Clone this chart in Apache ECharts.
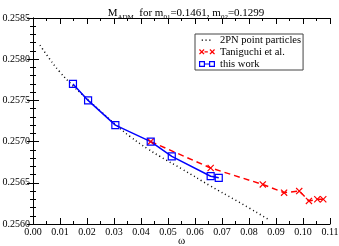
<!DOCTYPE html>
<html><head><meta charset="utf-8">
<script src="https://cdn.jsdelivr.net/npm/echarts@6/dist/echarts.min.js"></script>
<style>html,body{margin:0;padding:0;background:#fff}#c{width:339px;height:246px}</style>
</head><body><div id="c"></div>
<script>
const seriesNames = ['2PN point particles', 'Taniguchi et al.', 'this work'];
const pnOmega = [0.0026, 0.006, 0.0098, 0.015, 0.020, 0.025, 0.0305, 0.036, 0.0426, 0.047, 0.055, 0.0658, 0.075, 0.087];
const pnMass  = [0.25817, 0.25801, 0.25785, 0.25767, 0.25752, 0.25737, 0.25721, 0.25706, 0.25691, 0.25682, 0.25667, 0.25646, 0.25629, 0.25606];
const tanOmega = [0.0436, 0.0658, 0.0851, 0.0930, 0.0986, 0.1022, 0.1053, 0.1075];
const tanMass  = [0.2570, 0.25668, 0.25648, 0.25638, 0.2564, 0.25628, 0.2563, 0.2563];
const workOmega = [0.0148, 0.0204, 0.0305, 0.0436, 0.0514, 0.0658, 0.0688];
const workMass  = [0.2577, 0.2575, 0.2572, 0.2570, 0.25682, 0.25658, 0.25656];
const xTicks = [0, 0.11, 0.01];
const yTicks = [0.2560, 0.2585, 0.0005];

const zip = (a, b) => a.map((v, i) => [v, b[i]]);
const font = 'Liberation Serif';
const crossPath = 'path://M0,1.2L1.2,0L5,3.8L8.8,0L10,1.2L6.2,5L10,8.8L8.8,10L5,6.2L1.2,10L0,8.8L3.8,5Z';

// legend icons (16 x 9 boxes; tiny corner triangles fix the bounds)
const bounds = 'M0,0L0.01,0L0,0.01ZM16,9L15.99,9L16,8.99Z';
const iconDots = 'path://' + bounds + 'M2.7,3.9h1.3v1.3h-1.3ZM6.4,3.9h1.3v1.3h-1.3ZM10.2,3.9h1.3v1.3h-1.3Z';
const iconCross = 'path://' + bounds +
  'M0,2.5L0.9,1.6L2.75,3.45L4.6,1.6L5.5,2.5L3.65,4.35L5.5,6.2L4.6,7.1L2.75,5.25L0.9,7.1L0,6.2L1.85,4.35Z' +
  'M5.5,3.7h3.3v1.3h-3.3Z' +
  'M10.5,2.5L11.4,1.6L13.25,3.45L15.1,1.6L16,2.5L14.15,4.35L16,6.2L15.1,7.1L13.25,5.25L11.4,7.1L10.5,6.2L12.35,4.35Z';
const iconSquares = 'path://' + bounds +
  'M0,1.5L6,1.5L6,7.5L0,7.5ZM1.2,2.7L1.2,6.3L4.8,6.3L4.8,2.7Z' +
  'M6,3.9h4v1.2h-4Z' +
  'M10,1.5L16,1.5L16,7.5L10,7.5ZM11.2,2.7L11.2,6.3L14.8,6.3L14.8,2.7Z';

const axisCommon = {
  axisLine: {show: true, lineStyle: {color: '#000', width: 1}},
  axisTick: {show: true, inside: true, length: 6, lineStyle: {color: '#000'}},
  splitLine: {show: false},
  minorSplitLine: {show: false}
};

const chart = echarts.init(document.getElementById('c'));
chart.setOption({
  animation: false,
  backgroundColor: '#fff',
  title: {
    text: 'M{s|ADM}  for m{s|01}=0.1461, m{s|02}=0.1299',
    left: 181, textAlign: 'center', top: 1,
    textStyle: {
      fontFamily: font, fontSize: 11, fontWeight: 'normal', color: '#000',
      rich: {s: {fontFamily: font, fontSize: 7, padding: [8, 0, 0, 0], color: '#000'}}
    }
  },
  legend: {
    data: [
      {name: seriesNames[0], icon: iconDots, itemStyle: {color: '#000', borderWidth: 0}},
      {name: seriesNames[1], icon: iconCross, itemStyle: {color: '#ff0000', borderWidth: 0}},
      {name: seriesNames[2], icon: iconSquares, itemStyle: {color: '#0000ff', borderWidth: 0}}
    ],
    orient: 'vertical',
    left: 195, top: 34,
    itemWidth: 16, itemHeight: 12, itemGap: 0,
    padding: [0, 2, 0, 4],
    borderColor: '#444', borderWidth: 1,
    backgroundColor: '#fff',
    textStyle: {fontFamily: font, fontSize: 10.5, lineHeight: 12, color: '#000'}
  },
  grid: {left: 33, right: 9, top: 18, bottom: 22, outerBoundsMode: 'none'},
  xAxis: [
    Object.assign({}, axisCommon, {
      type: 'value', min: xTicks[0], max: xTicks[1], interval: xTicks[2],
      minorTick: {show: true, splitNumber: 2, length: 3, lineStyle: {color: '#000'}},
      axisLabel: {fontFamily: font, fontSize: 10, color: '#000', margin: 3, formatter: v => v.toFixed(2)},
      name: 'ω', nameLocation: 'middle', nameGap: 12, nameMoveOverlap: false,
      nameTextStyle: {fontFamily: font, fontSize: 11, color: '#000'}
    }),
    Object.assign({}, axisCommon, {
      type: 'value', position: 'top', min: xTicks[0], max: xTicks[1], interval: xTicks[2],
      minorTick: {show: true, splitNumber: 2, length: 3, lineStyle: {color: '#000'}},
      axisLabel: {show: false}
    })
  ],
  yAxis: [
    Object.assign({}, axisCommon, {
      type: 'value', min: yTicks[0], max: yTicks[1], interval: yTicks[2],
      minorTick: {show: true, splitNumber: 5, length: 3, lineStyle: {color: '#000'}},
      axisLabel: {fontFamily: font, fontSize: 10, color: '#000', margin: 3, formatter: v => v.toFixed(4)}
    }),
    Object.assign({}, axisCommon, {
      type: 'value', position: 'right', min: yTicks[0], max: yTicks[1], interval: yTicks[2],
      minorTick: {show: true, splitNumber: 5, length: 3, lineStyle: {color: '#000'}},
      axisLabel: {show: false}
    })
  ],
  series: [
    {
      name: seriesNames[0], type: 'line', smooth: true, showSymbol: false, symbol: 'none',
      data: zip(pnOmega, pnMass),
      lineStyle: {color: '#000', width: 1.5, type: [1, 3]},
      itemStyle: {color: '#000'}
    },
    {
      name: seriesNames[1], type: 'line',
      data: zip(tanOmega, tanMass),
      symbol: crossPath, symbolSize: 7,
      lineStyle: {color: '#ff0000', width: 1.5, type: [6, 4]},
      itemStyle: {color: '#ff0000'}
    },
    {
      name: seriesNames[2], type: 'line',
      data: zip(workOmega, workMass),
      symbol: 'rect', symbolSize: 7,
      lineStyle: {color: '#0000ff', width: 1.5},
      itemStyle: {color: 'rgba(255,255,255,0)', borderColor: '#0000ff', borderWidth: 1.2}
    }
  ]
});
</script>
</body></html>
